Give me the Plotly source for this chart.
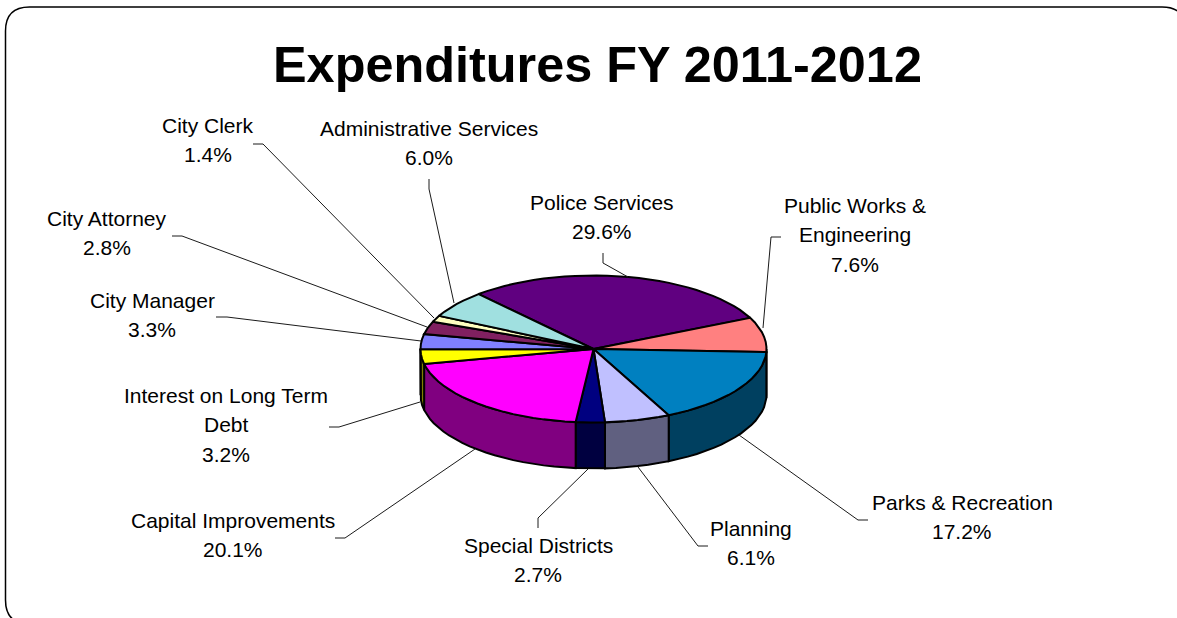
import numpy as np
import plotly.graph_objects as go

# Budget shares, in percent, clockwise from the Police Services slice
departments = [
    "Police Services", "Public Works &<br>Engineering", "Parks & Recreation",
    "Planning", "Special Districts", "Capital Improvements",
    "Interest on Long Term<br>Debt", "City Manager", "City Attorney",
    "City Clerk", "Administrative Services",
]
shares = [29.6, 7.6, 17.2, 6.1, 2.7, 20.1, 3.2, 3.3, 2.8, 1.4, 6.0]
top_colors = [
    "#600080", "#FF8080", "#0080C0", "#C0C0FF", "#000080", "#FF00FF",
    "#FFFF00", "#8080FF", "#802060", "#FFFFC0", "#A0E0E0",
]
side_colors = [
    "#300040", "#804040", "#004060", "#606080", "#000040", "#800080",
    "#808000", "#404080", "#401030", "#808060", "#507070",
]

# Label placement: centre x and y of the first text line
label_x = [602, 855, 962, 751, 538, 233, 226, 152, 107, 208, 428.5]
label_y = [202, 205, 502, 528, 545, 520, 395, 300, 218, 125, 128]
LINE_STEP = 29.6

# Leader lines: elbow start, elbow, slice end
leaders = [
    [(603, 253), (603, 263), (628, 277)],
    [(781, 237), (771, 237), (763, 328)],
    [(868, 520), (858, 520), (739, 435)],
    [(708, 546), (698, 546), (638, 467)],
    [(538, 528), (538, 518), (588, 469)],
    [(335, 538), (345, 538), (475, 449)],
    [(329, 427), (339, 427), (420, 402)],
    [(216, 317), (227, 317), (421, 341)],
    [(172, 236), (182, 236), (427, 327)],
    [(253, 144), (263, 144), (434, 318)],
    [(429, 179), (429, 189), (454, 303)],
]

# Pie projection in page pixels
CX, CY = 593.5, 349.0
RX, RY = 173.0, 73.5
DEPTH = 46.0
START_DEG = -41.6
EDGE = 2.0
ARC_STEP_DEG = 3.5


def rim(theta_deg, drop=0.0):
    t = np.radians(theta_deg)
    return CX + RX * np.sin(t), CY - RY * np.cos(t) + drop


def arc_angles(a, b):
    return np.linspace(a, b, max(int((b - a) / ARC_STEP_DEG) + 1, 2))


fig = go.Figure()
bounds = START_DEG + np.concatenate([[0], np.cumsum(shares)]) * 3.6

# Outer wall: only the part facing the viewer (90 to 270 degrees) is drawn
for a, b, color in zip(bounds[:-1], bounds[1:], side_colors):
    lo, hi = max(a, 90.0), min(b, 270.0)
    if hi <= lo:
        continue
    arc = arc_angles(lo, hi)
    x_top, y_top = rim(arc)
    x_bot, y_bot = rim(arc[::-1], DEPTH)
    fig.add_trace(go.Scatter(
        x=np.concatenate([x_top, x_bot, x_top[:1]]),
        y=np.concatenate([y_top, y_bot, y_top[:1]]),
        mode="lines", fill="toself", fillcolor=color,
        line=dict(color="#000000", width=EDGE), hoverinfo="skip",
    ))

# Top face wedges
for a, b, color in zip(bounds[:-1], bounds[1:], top_colors):
    x_arc, y_arc = rim(arc_angles(a, b))
    fig.add_trace(go.Scatter(
        x=np.concatenate([[CX], x_arc, [CX]]),
        y=np.concatenate([[CY], y_arc, [CY]]),
        mode="lines", fill="toself", fillcolor=color,
        line=dict(color="#000000", width=EDGE), hoverinfo="skip",
    ))

# Leader lines from each label to its slice
for pts in leaders:
    fig.add_trace(go.Scatter(
        x=[p[0] for p in pts], y=[p[1] for p in pts], mode="lines",
        line=dict(color="#1a1a1a", width=1), hoverinfo="skip",
    ))

# Category and percentage text, one annotation per line for exact line pitch
annotations = []
for name, share, x, y in zip(departments, shares, label_x, label_y):
    for i, line in enumerate(name.split("<br>") + [f"{share:.1f}%"]):
        annotations.append(dict(
            x=x, y=y + i * LINE_STEP, xref="x", yref="y", text=line,
            showarrow=False, xanchor="center", yanchor="middle",
            font=dict(family="Liberation Sans, Arial, sans-serif", size=21, color="#000000"),
        ))

annotations.append(dict(
    x=597, y=64, xref="x", yref="y", text="<b>Expenditures FY 2011-2012</b>",
    showarrow=False, xanchor="center", yanchor="middle",
    font=dict(family="Liberation Sans, Arial, sans-serif", size=50.4, color="#000000"),
))

# Rounded slide frame; its right and bottom edges run past the page
L, T, R, B, C = 5.5, 7.0, 1186.0, 624.0, 24.0
frame = (
    f"M {L + C} {T} L {R - C} {T} Q {R} {T} {R} {T + C} L {R} {B - C} "
    f"Q {R} {B} {R - C} {B} L {L + C} {B} Q {L} {B} {L} {B - C} "
    f"L {L} {T + C} Q {L} {T} {L + C} {T} Z"
)

fig.update_layout(
    width=1177, height=618,
    margin=dict(l=0, r=0, t=0, b=0),
    paper_bgcolor="#FFFFFF", plot_bgcolor="#FFFFFF",
    showlegend=False,
    xaxis=dict(range=[0, 1177], visible=False, fixedrange=True),
    yaxis=dict(range=[618, 0], visible=False, fixedrange=True),
    annotations=annotations,
    shapes=[dict(type="path", path=frame, xref="x", yref="y",
                 line=dict(color="#000000", width=1.5), layer="below")],
)

fig.write_html("out.html", config={"displayModeBar": False})
